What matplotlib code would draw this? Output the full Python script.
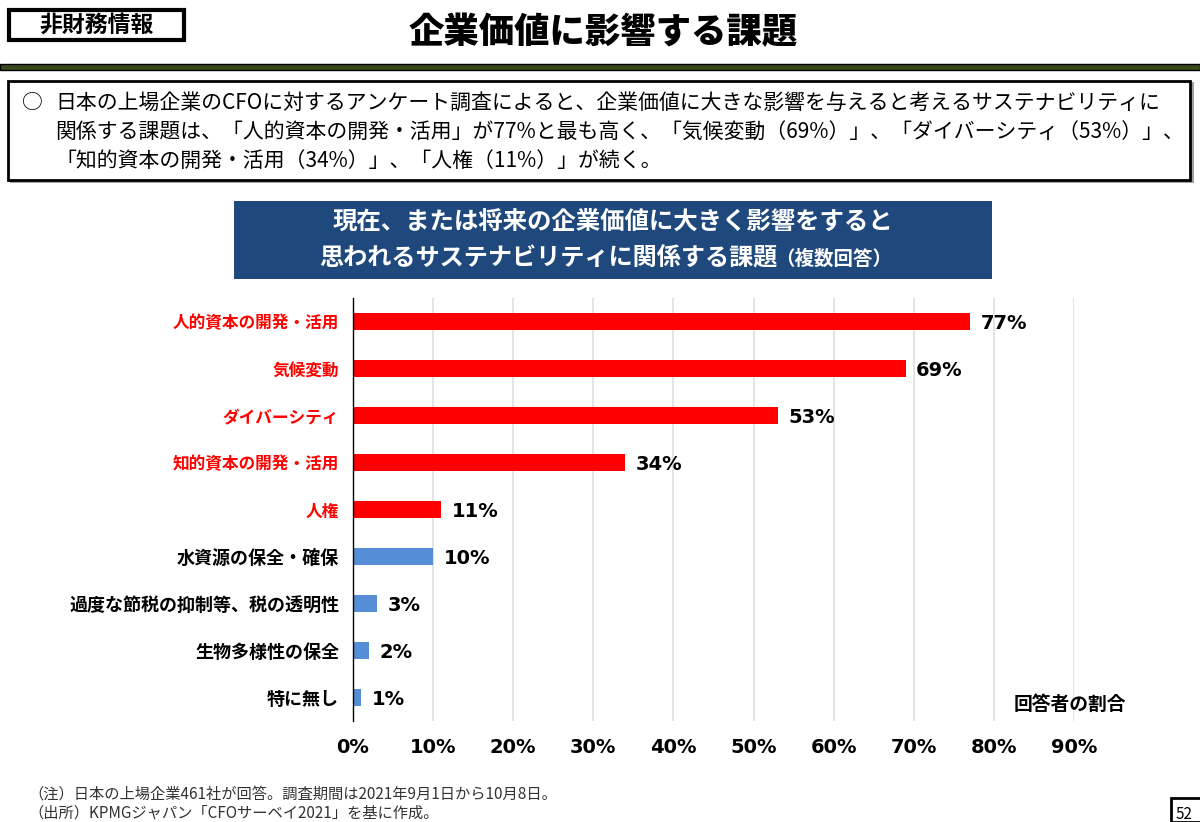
import numpy as np
import matplotlib.pyplot as plt
from matplotlib.patches import Rectangle

plt.rcParams['font.family'] = ['Noto Sans CJK JP', 'DejaVu Sans']

# data (top to bottom as in the chart)
categories = ['人的資本の開発・活用', '気候変動', 'ダイバーシティ', '知的資本の開発・活用', '人権',
              '水資源の保全・確保', '過度な節税の抑制等、税の透明性', '生物多様性の保全', '特に無し']
values = [77, 69, 53, 34, 11, 10, 3, 2, 1]
highlight = [True, True, True, True, True, False, False, False, False]
xticks = [0, 10, 20, 30, 40, 50, 60, 70, 80, 90]

W, H = 1200, 822
RED = '#FF0000'
BLUE = '#558ED5'
NAVY = '#1F497D'


def fx(x):
    return x / W


def fy(y):
    return 1 - y / H


fig = plt.figure(figsize=(12, 8.22), dpi=100)

# header
fig.patches.append(Rectangle((fx(9), fy(40)), fx(175), 30 / H, transform=fig.transFigure,
                             facecolor='white', edgecolor='black', linewidth=3))
fig.text(fx(97), fy(25), '非財務情報', ha='center', va='center', fontsize=16.5, fontweight='bold')
fig.text(fx(603), fy(32), '企業価値に影響する課題', ha='center', va='center', fontsize=25.5, fontweight='black')
fig.patches.append(Rectangle((0, fy(70)), 1, 6 / H, transform=fig.transFigure,
                             facecolor='#3B4A1C', edgecolor='black', linewidth=1))

# summary box
fig.patches.append(Rectangle((fx(10), fy(183)), fx(1184), 101 / H, transform=fig.transFigure,
                             facecolor='#A0A0A0', edgecolor='none'))
fig.patches.append(Rectangle((fx(8), fy(180)), fx(1182), 99 / H, transform=fig.transFigure,
                             facecolor='white', edgecolor='black', linewidth=2))
fig.text(fx(32), fy(103), '○', ha='center', va='center', fontsize=15)
lines = ['日本の上場企業のCFOに対するアンケート調査によると、企業価値に大きな影響を与えると考えるサステナビリティに',
         '関係する課題は、「人的資本の開発・活用」が77%と最も高く、「気候変動（69%）」、「ダイバーシティ（53%）」、',
         '「知的資本の開発・活用（34%）」、「人権（11%）」が続く。']
for i, t in enumerate(lines):
    fig.text(fx(55), fy(103 + i * 29), t, ha='left', va='center', fontsize=15)

# chart title box
fig.patches.append(Rectangle((fx(234), fy(279)), fx(758), 78 / H, transform=fig.transFigure,
                             facecolor=NAVY, edgecolor='none'))
fig.text(fx(613), fy(222), '現在、または将来の企業価値に大きく影響をすると', ha='center', va='center',
         fontsize=17.6, fontweight='bold', color='white')
fig.text(fx(548), fy(258), '思われるサステナビリティに関係する課題', ha='center', va='center',
         fontsize=17.4, fontweight='bold', color='white')
fig.text(fx(834), fy(259), '（複数回答）', ha='center', va='center',
         fontsize=14, fontweight='bold', color='white')

# bar chart
ax = fig.add_axes([fx(353), fy(721), fx(1074 - 353), (721 - 298) / H])
y = np.arange(len(categories))
colors = [RED if h else BLUE for h in highlight]
ax.barh(y, values, height=0.36, color=colors, zorder=3)
for yi, v in zip(y, values):
    ax.text(v + 1.3, yi + 0.04, f'{v}%', ha='left', va='center', fontsize=14, fontweight='bold',
            family='DejaVu Sans')
ax.set_ylim(len(categories) - 0.5, -0.5)
ax.set_xlim(0, 90)
ax.set_xticks(xticks)
ax.set_xticklabels([f'{t}%' for t in xticks], fontsize=14, fontweight='bold', family='DejaVu Sans')
ax.tick_params(axis='x', length=0, pad=12)
ax.set_yticks(y)
ax.set_yticklabels(categories, fontweight='bold')
for lbl, h in zip(ax.get_yticklabels(), highlight):
    lbl.set_color(RED if h else 'black')
    lbl.set_fontsize(12 if h else 13)
ax.tick_params(axis='y', length=0, pad=10)
ax.grid(axis='x', color='#E2E2E2', linewidth=1.3, zorder=0)
for s in ['top', 'right', 'bottom']:
    ax.spines[s].set_visible(False)
ax.spines['left'].set_color('black')
ax.spines['left'].set_linewidth(1)
ax.spines['left'].set_zorder(4)
fig.text(fx(1070), fy(704), '回答者の割合', ha='center', va='center', fontsize=13.5, fontweight='bold')

# footnotes
fig.text(fx(28), fy(794), '（注）日本の上場企業461社が回答。調査期間は2021年9月1日から10月8日。',
         ha='left', va='center', fontsize=11, color='#333333')
fig.text(fx(28), fy(813), '（出所）KPMGジャパン「CFOサーベイ2021」を基に作成。',
         ha='left', va='center', fontsize=11, color='#333333')
fig.patches.append(Rectangle((fx(1171), 0), fx(40), 24 / H, transform=fig.transFigure,
                             facecolor='white', edgecolor='black', linewidth=2))
fig.text(fx(1176), fy(814), '52', ha='left', va='center', fontsize=11)

fig.savefig('out.png', dpi=100)
